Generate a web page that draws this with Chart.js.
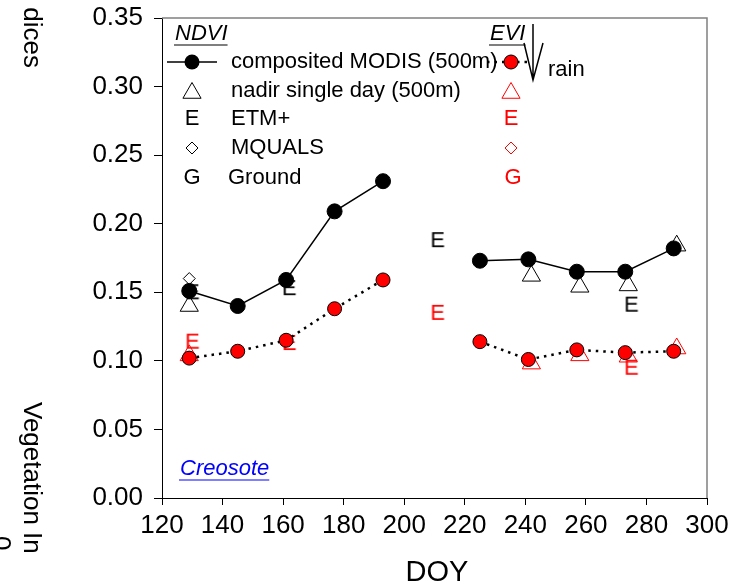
<!DOCTYPE html>
<html>
<head>
<meta charset="utf-8">
<script src="https://cdn.jsdelivr.net/npm/chart.js@4.4.0/dist/chart.umd.min.js"></script>
<style>
  html, body { margin: 0; padding: 0; background: #fff; }
  #wrap { width: 738px; height: 585px; }
</style>
</head>
<body>
<div id="wrap"><canvas id="chart-vi"></canvas></div>
<script>
// 16-day composites (null = missing composite, breaks the line)
const doy = [129, 145, 161, 177, 193, 209, 225, 241, 257, 273, 289];
const ndviModis = [0.151, 0.140, 0.159, 0.209, 0.231, null, 0.173, 0.174, 0.165, 0.165, 0.182];
const eviModis = [0.102, 0.107, 0.115, 0.138, 0.159, null, 0.114, 0.101, 0.108, 0.106, 0.107];

// nadir single-day MODIS
const nadirDoy = [129, 242, 258, 274, 290];
const ndviNadir = [0.140, 0.162, 0.154, 0.155, 0.184];
const eviNadir = [0.104, 0.098, 0.104, 0.103, 0.109];

// ETM+ scenes
const etmDoy = [130, 162, 211, 275];
const ndviEtm = [0.150, 0.153, 0.188, 0.141];
const eviEtm = [0.114, 0.113, 0.135, 0.095];

// MQUALS
const mqualsDoy = [129];
const ndviMquals = [0.160];

const xTicks = [120, 140, 160, 180, 200, 220, 240, 260, 280, 300];
const yTicks = [0.00, 0.05, 0.10, 0.15, 0.20, 0.25, 0.30, 0.35];

const FONT = '"Liberation Sans", Arial, sans-serif';

const pts = (xs, ys) => xs.map((x, i) => ({ x: x, y: ys[i] }));

function letterMarker(ch, color) {
  const c = document.createElement('canvas');
  c.width = 26; c.height = 26;
  const g = c.getContext('2d');
  g.font = '22px ' + FONT;
  g.fillStyle = color;
  g.textAlign = 'center';
  g.textBaseline = 'middle';
  g.fillText(ch, 13, 14);
  return c;
}

// legend, titles, frame
const extras = {
  id: 'extras',
  afterDraw(chart) {
    const ctx = chart.ctx;
    const a = chart.chartArea;
    ctx.save();

    // top and right frame
    ctx.strokeStyle = '#808080';
    ctx.lineWidth = 1.5;
    ctx.beginPath();
    ctx.moveTo(a.left, a.top);
    ctx.lineTo(a.right, a.top);
    ctx.lineTo(a.right, a.bottom);
    ctx.stroke();

    ctx.fillStyle = '#000';
    ctx.textBaseline = 'middle';

    function uText(t, x, y, font, color) {
      ctx.font = font;
      ctx.fillStyle = color;
      ctx.textAlign = 'left';
      ctx.fillText(t, x, y);
      const w = ctx.measureText(t).width;
      ctx.strokeStyle = color;
      ctx.lineWidth = 1.2;
      ctx.beginPath();
      ctx.moveTo(x - 1, y + 11);
      ctx.lineTo(x + w, y + 11);
      ctx.stroke();
    }

    uText('NDVI', 175, 34, 'italic 22px ' + FONT, '#000');
    uText('EVI', 490, 34, 'italic 22px ' + FONT, '#000');

    const mx = 192, ex = 511;
    const rows = [62, 91, 119, 148, 178];

    // row 1: composited
    ctx.strokeStyle = '#000';
    ctx.lineWidth = 1.5;
    ctx.beginPath(); ctx.moveTo(167, rows[0]); ctx.lineTo(217, rows[0]); ctx.stroke();
    ctx.beginPath(); ctx.arc(mx, rows[0], 7.5, 0, Math.PI * 2); ctx.fillStyle = '#000'; ctx.fill();
    ctx.setLineDash([2.5, 5]);
    ctx.lineWidth = 2.5;
    ctx.beginPath(); ctx.moveTo(487, rows[0]); ctx.lineTo(531, rows[0]); ctx.stroke();
    ctx.setLineDash([]);
    ctx.beginPath(); ctx.arc(ex, rows[0], 7, 0, Math.PI * 2);
    ctx.fillStyle = '#ff0000'; ctx.fill();
    ctx.lineWidth = 1; ctx.strokeStyle = '#000'; ctx.stroke();

    // row 2: triangles
    function tri(x, y, r, color) {
      ctx.strokeStyle = color;
      ctx.lineWidth = 1;
      ctx.beginPath();
      for (let k = 0; k < 3; k++) {
        const ang = k * 2 * Math.PI / 3;
        const px = x + Math.sin(ang) * r, py = y - Math.cos(ang) * r;
        if (k === 0) ctx.moveTo(px, py); else ctx.lineTo(px, py);
      }
      ctx.closePath();
      ctx.stroke();
    }
    tri(mx, rows[1] + 2, 10.5, '#000');
    tri(ex, rows[1] + 2, 10.5, '#ff0000');

    // row 4: diamonds
    function diamond(x, y, r, color) {
      ctx.strokeStyle = color;
      ctx.lineWidth = 1;
      ctx.beginPath();
      ctx.moveTo(x, y - r); ctx.lineTo(x + r, y); ctx.lineTo(x, y + r); ctx.lineTo(x - r, y);
      ctx.closePath();
      ctx.stroke();
    }
    diamond(mx, rows[3], 6, '#000');
    diamond(ex, rows[3], 6, '#ff0000');

    ctx.font = '22px ' + FONT;
    ctx.textAlign = 'center';
    ctx.fillStyle = '#000';
    ctx.fillText('E', mx, rows[2]);
    ctx.fillText('G', mx, rows[4]);
    ctx.fillStyle = '#ff0000';
    ctx.fillText('E', ex, rows[2]);
    ctx.fillText('G', ex + 2, rows[4]);

    ctx.textAlign = 'left';
    ctx.fillStyle = '#000';
    ctx.fillText('composited MODIS (500m)', 231, rows[0]);
    ctx.fillText('nadir single day (500m)', 231, rows[1]);
    ctx.fillText('ETM+', 231, rows[2]);
    ctx.fillText('MQUALS', 231, rows[3]);
    ctx.fillText('Ground', 228, rows[4]);

    // rain arrow
    ctx.strokeStyle = '#000';
    ctx.lineWidth = 1.5;
    ctx.beginPath();
    ctx.moveTo(533, 24); ctx.lineTo(533, 80);
    ctx.moveTo(524, 43); ctx.lineTo(533, 80); ctx.lineTo(543, 43);
    ctx.stroke();
    ctx.fillText('rain', 548, 70);

    // site label
    uText('Creosote', 180, 469, 'italic 22px ' + FONT, '#0000ff');

    // axis titles
    ctx.fillStyle = '#000';
    ctx.font = '29px ' + FONT;
    ctx.textAlign = 'center';
    ctx.textBaseline = 'alphabetic';
    ctx.fillText('DOY', 437, 581);

    ctx.font = '26px ' + FONT;
    ctx.textAlign = 'left';
    const rot = (t, x, y) => {
      ctx.save(); ctx.translate(x, y); ctx.rotate(Math.PI / 2); ctx.fillText(t, 0, 0); ctx.restore();
    };
    rot('Vegetation In', 24, 402);
    rot('dices', 24, 68 - ctx.measureText('dices').width);
    rot('0', -7, 536);

    ctx.restore();
  }
};

const tickFont = { family: FONT, size: 26 };

new Chart(document.getElementById('chart-vi'), {
  type: 'scatter',
  data: {
    datasets: [
      {
        label: 'NDVI composited MODIS (500m)',
        data: pts(doy, ndviModis),
        showLine: true,
        spanGaps: false,
        borderColor: '#000',
        borderWidth: 1.5,
        pointRadius: 7.5,
        pointBackgroundColor: '#000',
        pointBorderColor: '#000',
        pointBorderWidth: 1,
        order: 0
      },
      {
        label: 'EVI composited MODIS (500m)',
        data: pts(doy, eviModis),
        showLine: true,
        spanGaps: false,
        borderColor: '#000',
        borderWidth: 2.5,
        borderDash: [2.5, 5],
        pointRadius: 7,
        pointBackgroundColor: '#ff0000',
        pointBorderColor: '#000',
        pointBorderWidth: 1,
        order: 0
      },
      {
        label: 'NDVI nadir single day (500m)',
        data: pts(nadirDoy, ndviNadir),
        pointStyle: 'triangle',
        pointRadius: 10.5,
        pointBackgroundColor: 'rgba(0,0,0,0)',
        pointBorderColor: '#000',
        pointBorderWidth: 1,
        order: 1
      },
      {
        label: 'EVI nadir single day (500m)',
        data: pts(nadirDoy, eviNadir),
        pointStyle: 'triangle',
        pointRadius: 10.5,
        pointBackgroundColor: 'rgba(0,0,0,0)',
        pointBorderColor: '#ff0000',
        pointBorderWidth: 1,
        order: 1
      },
      {
        label: 'NDVI ETM+',
        data: pts(etmDoy, ndviEtm),
        pointStyle: letterMarker('E', '#000'),
        order: 2
      },
      {
        label: 'EVI ETM+',
        data: pts(etmDoy, eviEtm),
        pointStyle: letterMarker('E', '#ff0000'),
        order: 2
      },
      {
        label: 'NDVI MQUALS',
        data: pts(mqualsDoy, ndviMquals),
        pointStyle: 'rectRot',
        pointRadius: 6,
        pointBackgroundColor: 'rgba(0,0,0,0)',
        pointBorderColor: '#000',
        pointBorderWidth: 1,
        order: 1
      }
    ]
  },
  options: {
    responsive: true,
    maintainAspectRatio: false,
    animation: false,
    events: [],
    layout: { padding: { top: 18, right: 31, left: 0, bottom: 0 } },
    plugins: { legend: { display: false }, tooltip: { enabled: false } },
    scales: {
      x: {
        type: 'linear',
        min: 120,
        max: 300,
        afterFit: (s) => { s.height = 87; s.paddingLeft = 0; s.paddingRight = 0; },
        afterBuildTicks: (s) => { s.ticks = xTicks.map(v => ({ value: v })); },
        ticks: { font: tickFont, color: '#000', padding: 5, maxRotation: 0, autoSkip: false },
        grid: { drawOnChartArea: false, tickLength: 7, color: '#000' },
        border: { color: '#000', width: 1 }
      },
      y: {
        min: 0,
        max: 0.35,
        afterFit: (s) => { s.width = 162; s.paddingTop = 0; s.paddingBottom = 0; },
        afterBuildTicks: (s) => { s.ticks = yTicks.map(v => ({ value: v })); },
        ticks: { font: tickFont, color: '#000', padding: 11, callback: (v) => v.toFixed(2) },
        grid: { drawOnChartArea: false, tickLength: 8, color: '#000' },
        border: { color: '#000', width: 1 }
      }
    }
  },
  plugins: [extras]
});
</script>
</body>
</html>
